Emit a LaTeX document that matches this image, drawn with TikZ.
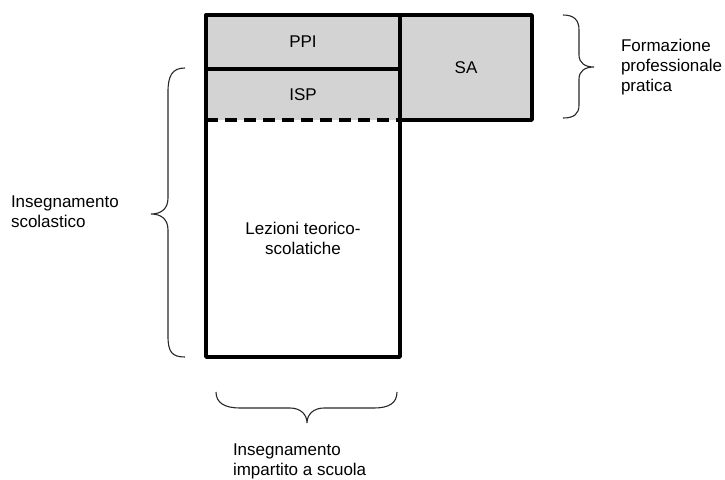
\documentclass[tikz,border=0pt]{standalone}
\usepackage{fontspec}
\setmainfont{Liberation Sans}
\definecolor{boxgray}{RGB}{211,211,211}
\definecolor{bracegray}{RGB}{40,40,40}
\begin{document}
\begin{tikzpicture}[x=1pt,y=-1pt,
  cell/.style={fill=boxgray,draw=none,inner sep=0pt,outer sep=0pt,font=\fontsize{17}{20}\selectfont,align=center},
  frame/.style={line width=3.5pt,line join=round,line cap=round},
  dashframe/.style={line width=3.5pt,dash pattern=on 12pt off 7pt},
  bracestyle/.style={line width=1.1pt,draw=bracegray},
  lbl/.style={inner sep=0pt,outer sep=0pt,font=\fontsize{17}{20}\selectfont,align=left,anchor=west}]
\useasboundingbox (0,0) rectangle (725,479);
\fill[white] (0,0) rectangle (725,479);
% cells
\node[cell,minimum width=194pt,minimum height=54pt] (ppi) at (303,42) {PPI};
\node[cell,minimum width=194pt,minimum height=51pt] (isp) at (303,94.5) {ISP};
\node[cell,minimum width=132pt,minimum height=105pt] (sa) at (466,67.5) {SA};
\node[cell,fill=white,minimum width=194pt,minimum height=237pt] (lez) at (303,238.5) {Lezioni teorico-\\scolatiche};
% frames
\draw[frame] (ppi.north west) -- (sa.north east) -- (sa.south east) -- (sa.south west);
\draw[frame] (ppi.north west) -- (lez.south west) -- (lez.south east) -- (sa.north west);
\draw[frame] (ppi.south west) -- (ppi.south east);
\draw[dashframe] (isp.south west) -- (isp.south east);
% braces
\coordinate (lt) at (185,68);
\coordinate (lb) at (185,357);
\coordinate (ltip) at (151,214);
\draw[bracestyle] (lt) .. controls (172,68) and (168,76) .. (168,92) -- (168,198)
  .. controls (168,209) and (161,214) .. (ltip)
  .. controls (161,214) and (168,219) .. (168,230) -- (168,336)
  .. controls (168,352) and (172,357) .. (lb);
\coordinate (rt) at (563,15);
\coordinate (rb) at (563,118);
\coordinate (rtip) at (594,67);
\draw[bracestyle] (rt) .. controls (574,15) and (579,20) .. (579,30) -- (579,55)
  .. controls (579,63) and (585,67) .. (rtip)
  .. controls (585,67) and (579,71) .. (579,79) -- (579,105)
  .. controls (579,114) and (574,118) .. (rb);
\coordinate (bl) at (216,392);
\coordinate (br) at (397,392);
\coordinate (btip) at (307,423);
\draw[bracestyle] (bl) .. controls (216,403) and (225,408) .. (240,408) -- (290,408)
  .. controls (300,408) and (307,414) .. (btip)
  .. controls (307,414) and (314,408) .. (324,408) -- (374,408)
  .. controls (389,408) and (397,403) .. (br);
% labels
\node[lbl] (lsc) at (11,212) {Insegnamento\\scolastico};
\node[lbl] (lfp) at (621,67) {Formazione\\professionale\\pratica};
\node[lbl] (lis) at (233,461) {Insegnamento\\impartito a scuola};
\end{tikzpicture}
\end{document}
